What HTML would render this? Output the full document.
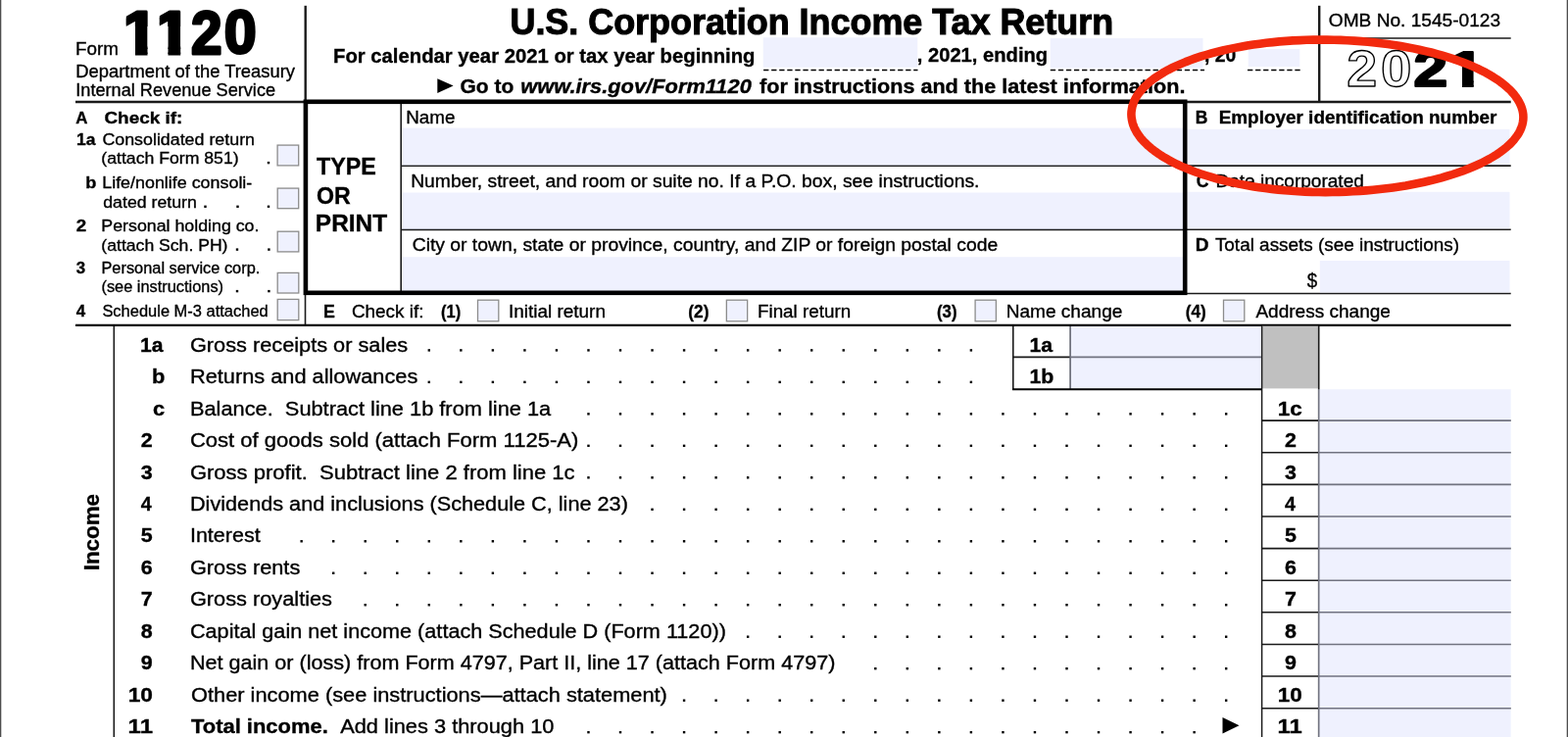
<!DOCTYPE html>
<html><head><meta charset="utf-8"><title>Form 1120</title>
<style>
html,body{margin:0;padding:0;background:#fff;width:1600px;height:752px;overflow:hidden}
svg{display:block}
text{font-family:"Liberation Sans",Arial,Helvetica,sans-serif;fill:#000;stroke:#000;stroke-width:0.35px;white-space:pre}
.b{font-weight:bold}
.i{font-style:italic}
.bi{font-weight:bold;font-style:italic}
</style></head>
<body>
<svg width="1600" height="752" viewBox="0 0 1600 752">
<defs><clipPath id="o1"><rect x="138.00" y="6.60" width="12.50" height="52.40"/><rect x="128.80" y="6.60" width="24.70" height="20.40"/></clipPath><clipPath id="o2"><rect x="171.50" y="6.60" width="12.70" height="52.40"/><rect x="162.80" y="6.60" width="24.40" height="20.40"/></clipPath><clipPath id="o3"><rect x="1492.00" y="49.00" width="11.70" height="43.20"/><rect x="1483.60" y="49.00" width="23.10" height="19.00"/></clipPath></defs>
<rect width="1600" height="752" fill="#fff"/>
<rect x="0.00" y="0.00" width="1.30" height="752.00" fill="#4d4d4d"/>
<rect x="1598.70" y="0.00" width="1.30" height="752.00" fill="#4d4d4d"/>
<line x1="779.10" y1="71.60" x2="936.50" y2="71.60" stroke="#000" stroke-width="1.5" stroke-dasharray="5.3 2.76"/>
<line x1="1071.80" y1="71.60" x2="1229.00" y2="71.60" stroke="#000" stroke-width="1.5" stroke-dasharray="5.3 2.76"/>
<line x1="1273.00" y1="71.60" x2="1327.50" y2="71.60" stroke="#000" stroke-width="1.5" stroke-dasharray="5.3 2.76"/>
<line x1="311.70" y1="5.80" x2="311.70" y2="103.00" stroke="#1a1a1a" stroke-width="2.4"/>
<line x1="1346.20" y1="5.80" x2="1346.20" y2="103.00" stroke="#1a1a1a" stroke-width="2.4"/>
<line x1="1346.00" y1="39.00" x2="1541.70" y2="39.00" stroke="#1a1a1a" stroke-width="1.6"/>
<line x1="77.00" y1="104.00" x2="311.00" y2="104.00" stroke="#1a1a1a" stroke-width="2.4"/>
<line x1="1210.00" y1="104.00" x2="1541.70" y2="104.00" stroke="#1a1a1a" stroke-width="2.4"/>
<line x1="409.20" y1="105.00" x2="409.20" y2="298.00" stroke="#1a1a1a" stroke-width="1.6"/>
<line x1="410.00" y1="169.20" x2="1208.00" y2="169.20" stroke="#1a1a1a" stroke-width="1.6"/>
<line x1="410.00" y1="234.40" x2="1208.00" y2="234.40" stroke="#1a1a1a" stroke-width="1.6"/>
<line x1="1211.00" y1="169.10" x2="1541.70" y2="169.10" stroke="#1a1a1a" stroke-width="1.6"/>
<line x1="1211.00" y1="234.30" x2="1541.70" y2="234.30" stroke="#1a1a1a" stroke-width="1.6"/>
<line x1="1211.00" y1="299.50" x2="1541.70" y2="299.50" stroke="#1a1a1a" stroke-width="1.6"/>
<line x1="311.50" y1="299.00" x2="311.50" y2="332.00" stroke="#1a1a1a" stroke-width="1.6"/>
<line x1="77.00" y1="331.90" x2="1541.70" y2="331.90" stroke="#000" stroke-width="2.3"/>
<line x1="116.30" y1="333.00" x2="116.30" y2="752.00" stroke="#1a1a1a" stroke-width="1.6"/>
<line x1="1033.80" y1="333.00" x2="1033.80" y2="397.30" stroke="#1a1a1a" stroke-width="1.6"/>
<line x1="1092.20" y1="333.00" x2="1092.20" y2="397.30" stroke="#1a1a1a" stroke-width="1.6"/>
<line x1="1033.80" y1="364.40" x2="1287.30" y2="364.40" stroke="#1a1a1a" stroke-width="1.6"/>
<rect x="1287.70" y="332.60" width="57.50" height="63.80" fill="#c0c0c0"/>
<line x1="1287.60" y1="333.00" x2="1287.60" y2="752.00" stroke="#1a1a1a" stroke-width="1.5"/>
<line x1="1345.70" y1="333.00" x2="1345.70" y2="752.00" stroke="#1a1a1a" stroke-width="1.6"/>
<line x1="1287.60" y1="429.10" x2="1541.70" y2="429.10" stroke="#1a1a1a" stroke-width="1.6"/>
<line x1="1287.60" y1="461.72" x2="1541.70" y2="461.72" stroke="#1a1a1a" stroke-width="1.6"/>
<line x1="1287.60" y1="494.34" x2="1541.70" y2="494.34" stroke="#1a1a1a" stroke-width="1.6"/>
<line x1="1287.60" y1="526.96" x2="1541.70" y2="526.96" stroke="#1a1a1a" stroke-width="1.6"/>
<line x1="1287.60" y1="559.58" x2="1541.70" y2="559.58" stroke="#1a1a1a" stroke-width="1.6"/>
<line x1="1287.60" y1="592.20" x2="1541.70" y2="592.20" stroke="#1a1a1a" stroke-width="1.6"/>
<line x1="1287.60" y1="624.82" x2="1541.70" y2="624.82" stroke="#1a1a1a" stroke-width="1.6"/>
<line x1="1287.60" y1="657.44" x2="1541.70" y2="657.44" stroke="#1a1a1a" stroke-width="1.6"/>
<line x1="1287.60" y1="690.06" x2="1541.70" y2="690.06" stroke="#1a1a1a" stroke-width="1.6"/>
<line x1="1287.60" y1="722.68" x2="1541.70" y2="722.68" stroke="#1a1a1a" stroke-width="1.6"/>
<line x1="1287.60" y1="755.30" x2="1541.70" y2="755.30" stroke="#1a1a1a" stroke-width="1.6"/>
<g fill="rgb(219,224,253)" fill-opacity="0.45">
<rect x="778.75" y="38.25" width="157.50" height="30.55"/>
<rect x="1071.75" y="39.00" width="155.75" height="30.50"/>
<rect x="1273.75" y="50.00" width="52.50" height="18.00"/>
<rect x="410.00" y="130.60" width="797.00" height="37.90"/>
<rect x="410.00" y="196.50" width="797.00" height="37.50"/>
<rect x="410.00" y="262.20" width="797.00" height="34.80"/>
<rect x="1211.50" y="131.90" width="329.00" height="36.10"/>
<rect x="1211.50" y="195.80" width="329.00" height="37.50"/>
<rect x="1346.80" y="266.00" width="193.70" height="32.50"/>
<rect x="1091.40" y="333.00" width="195.60" height="64.00"/>
<rect x="1345.00" y="397.20" width="196.70" height="354.80"/>
</g>
<rect x="311.9" y="103.8" width="897.3" height="195" fill="none" stroke="#000" stroke-width="4.6"/>
<line x1="1033.00" y1="397.20" x2="1287.50" y2="397.20" stroke="#000" stroke-width="2.0"/>
<rect x="283.10" y="148.10" width="21.60" height="20.80" fill="#eff1fe" stroke="#8c8c8c" stroke-width="1.3"/>
<rect x="283.20" y="192.10" width="21.50" height="20.60" fill="#eff1fe" stroke="#8c8c8c" stroke-width="1.3"/>
<rect x="283.20" y="236.20" width="21.60" height="20.70" fill="#eff1fe" stroke="#8c8c8c" stroke-width="1.3"/>
<rect x="283.20" y="278.40" width="21.60" height="20.60" fill="#eff1fe" stroke="#8c8c8c" stroke-width="1.3"/>
<rect x="283.20" y="305.40" width="21.60" height="21.20" fill="#eff1fe" stroke="#8c8c8c" stroke-width="1.3"/>
<rect x="487.50" y="306.20" width="21.30" height="21.60" fill="#eff1fe" stroke="#8c8c8c" stroke-width="1.3"/>
<rect x="741.35" y="306.20" width="21.30" height="21.60" fill="#eff1fe" stroke="#8c8c8c" stroke-width="1.3"/>
<rect x="995.10" y="306.20" width="21.30" height="21.60" fill="#eff1fe" stroke="#8c8c8c" stroke-width="1.3"/>
<rect x="1248.50" y="306.20" width="21.30" height="21.60" fill="#eff1fe" stroke="#8c8c8c" stroke-width="1.3"/>
<rect x="272.80" y="164.90" width="2.4" height="2.4" fill="#000"/>
<rect x="208.30" y="209.60" width="2.4" height="2.4" fill="#000"/>
<rect x="241.30" y="209.60" width="2.4" height="2.4" fill="#000"/>
<rect x="272.80" y="209.60" width="2.4" height="2.4" fill="#000"/>
<rect x="240.80" y="253.40" width="2.4" height="2.4" fill="#000"/>
<rect x="273.20" y="253.40" width="2.4" height="2.4" fill="#000"/>
<rect x="240.80" y="295.90" width="2.4" height="2.4" fill="#000"/>
<rect x="273.20" y="295.90" width="2.4" height="2.4" fill="#000"/>
<rect x="436.60" y="356.20" width="2.4" height="2.4" fill="#000"/>
<rect x="469.14" y="356.20" width="2.4" height="2.4" fill="#000"/>
<rect x="501.67" y="356.20" width="2.4" height="2.4" fill="#000"/>
<rect x="534.20" y="356.20" width="2.4" height="2.4" fill="#000"/>
<rect x="566.74" y="356.20" width="2.4" height="2.4" fill="#000"/>
<rect x="599.27" y="356.20" width="2.4" height="2.4" fill="#000"/>
<rect x="631.81" y="356.20" width="2.4" height="2.4" fill="#000"/>
<rect x="664.34" y="356.20" width="2.4" height="2.4" fill="#000"/>
<rect x="696.88" y="356.20" width="2.4" height="2.4" fill="#000"/>
<rect x="729.41" y="356.20" width="2.4" height="2.4" fill="#000"/>
<rect x="761.95" y="356.20" width="2.4" height="2.4" fill="#000"/>
<rect x="794.48" y="356.20" width="2.4" height="2.4" fill="#000"/>
<rect x="827.02" y="356.20" width="2.4" height="2.4" fill="#000"/>
<rect x="859.55" y="356.20" width="2.4" height="2.4" fill="#000"/>
<rect x="892.09" y="356.20" width="2.4" height="2.4" fill="#000"/>
<rect x="924.62" y="356.20" width="2.4" height="2.4" fill="#000"/>
<rect x="957.16" y="356.20" width="2.4" height="2.4" fill="#000"/>
<rect x="989.69" y="356.20" width="2.4" height="2.4" fill="#000"/>
<rect x="436.60" y="388.68" width="2.4" height="2.4" fill="#000"/>
<rect x="469.14" y="388.68" width="2.4" height="2.4" fill="#000"/>
<rect x="501.67" y="388.68" width="2.4" height="2.4" fill="#000"/>
<rect x="534.20" y="388.68" width="2.4" height="2.4" fill="#000"/>
<rect x="566.74" y="388.68" width="2.4" height="2.4" fill="#000"/>
<rect x="599.27" y="388.68" width="2.4" height="2.4" fill="#000"/>
<rect x="631.81" y="388.68" width="2.4" height="2.4" fill="#000"/>
<rect x="664.34" y="388.68" width="2.4" height="2.4" fill="#000"/>
<rect x="696.88" y="388.68" width="2.4" height="2.4" fill="#000"/>
<rect x="729.41" y="388.68" width="2.4" height="2.4" fill="#000"/>
<rect x="761.95" y="388.68" width="2.4" height="2.4" fill="#000"/>
<rect x="794.48" y="388.68" width="2.4" height="2.4" fill="#000"/>
<rect x="827.02" y="388.68" width="2.4" height="2.4" fill="#000"/>
<rect x="859.55" y="388.68" width="2.4" height="2.4" fill="#000"/>
<rect x="892.09" y="388.68" width="2.4" height="2.4" fill="#000"/>
<rect x="924.62" y="388.68" width="2.4" height="2.4" fill="#000"/>
<rect x="957.16" y="388.68" width="2.4" height="2.4" fill="#000"/>
<rect x="989.69" y="388.68" width="2.4" height="2.4" fill="#000"/>
<rect x="599.27" y="421.16" width="2.4" height="2.4" fill="#000"/>
<rect x="631.81" y="421.16" width="2.4" height="2.4" fill="#000"/>
<rect x="664.34" y="421.16" width="2.4" height="2.4" fill="#000"/>
<rect x="696.88" y="421.16" width="2.4" height="2.4" fill="#000"/>
<rect x="729.41" y="421.16" width="2.4" height="2.4" fill="#000"/>
<rect x="761.95" y="421.16" width="2.4" height="2.4" fill="#000"/>
<rect x="794.48" y="421.16" width="2.4" height="2.4" fill="#000"/>
<rect x="827.02" y="421.16" width="2.4" height="2.4" fill="#000"/>
<rect x="859.55" y="421.16" width="2.4" height="2.4" fill="#000"/>
<rect x="892.09" y="421.16" width="2.4" height="2.4" fill="#000"/>
<rect x="924.62" y="421.16" width="2.4" height="2.4" fill="#000"/>
<rect x="957.16" y="421.16" width="2.4" height="2.4" fill="#000"/>
<rect x="989.69" y="421.16" width="2.4" height="2.4" fill="#000"/>
<rect x="1022.23" y="421.16" width="2.4" height="2.4" fill="#000"/>
<rect x="1054.76" y="421.16" width="2.4" height="2.4" fill="#000"/>
<rect x="1087.30" y="421.16" width="2.4" height="2.4" fill="#000"/>
<rect x="1119.83" y="421.16" width="2.4" height="2.4" fill="#000"/>
<rect x="1152.37" y="421.16" width="2.4" height="2.4" fill="#000"/>
<rect x="1184.90" y="421.16" width="2.4" height="2.4" fill="#000"/>
<rect x="1217.44" y="421.16" width="2.4" height="2.4" fill="#000"/>
<rect x="1249.97" y="421.16" width="2.4" height="2.4" fill="#000"/>
<rect x="599.27" y="453.64" width="2.4" height="2.4" fill="#000"/>
<rect x="631.81" y="453.64" width="2.4" height="2.4" fill="#000"/>
<rect x="664.34" y="453.64" width="2.4" height="2.4" fill="#000"/>
<rect x="696.88" y="453.64" width="2.4" height="2.4" fill="#000"/>
<rect x="729.41" y="453.64" width="2.4" height="2.4" fill="#000"/>
<rect x="761.95" y="453.64" width="2.4" height="2.4" fill="#000"/>
<rect x="794.48" y="453.64" width="2.4" height="2.4" fill="#000"/>
<rect x="827.02" y="453.64" width="2.4" height="2.4" fill="#000"/>
<rect x="859.55" y="453.64" width="2.4" height="2.4" fill="#000"/>
<rect x="892.09" y="453.64" width="2.4" height="2.4" fill="#000"/>
<rect x="924.62" y="453.64" width="2.4" height="2.4" fill="#000"/>
<rect x="957.16" y="453.64" width="2.4" height="2.4" fill="#000"/>
<rect x="989.69" y="453.64" width="2.4" height="2.4" fill="#000"/>
<rect x="1022.23" y="453.64" width="2.4" height="2.4" fill="#000"/>
<rect x="1054.76" y="453.64" width="2.4" height="2.4" fill="#000"/>
<rect x="1087.30" y="453.64" width="2.4" height="2.4" fill="#000"/>
<rect x="1119.83" y="453.64" width="2.4" height="2.4" fill="#000"/>
<rect x="1152.37" y="453.64" width="2.4" height="2.4" fill="#000"/>
<rect x="1184.90" y="453.64" width="2.4" height="2.4" fill="#000"/>
<rect x="1217.44" y="453.64" width="2.4" height="2.4" fill="#000"/>
<rect x="1249.97" y="453.64" width="2.4" height="2.4" fill="#000"/>
<rect x="599.27" y="486.12" width="2.4" height="2.4" fill="#000"/>
<rect x="631.81" y="486.12" width="2.4" height="2.4" fill="#000"/>
<rect x="664.34" y="486.12" width="2.4" height="2.4" fill="#000"/>
<rect x="696.88" y="486.12" width="2.4" height="2.4" fill="#000"/>
<rect x="729.41" y="486.12" width="2.4" height="2.4" fill="#000"/>
<rect x="761.95" y="486.12" width="2.4" height="2.4" fill="#000"/>
<rect x="794.48" y="486.12" width="2.4" height="2.4" fill="#000"/>
<rect x="827.02" y="486.12" width="2.4" height="2.4" fill="#000"/>
<rect x="859.55" y="486.12" width="2.4" height="2.4" fill="#000"/>
<rect x="892.09" y="486.12" width="2.4" height="2.4" fill="#000"/>
<rect x="924.62" y="486.12" width="2.4" height="2.4" fill="#000"/>
<rect x="957.16" y="486.12" width="2.4" height="2.4" fill="#000"/>
<rect x="989.69" y="486.12" width="2.4" height="2.4" fill="#000"/>
<rect x="1022.23" y="486.12" width="2.4" height="2.4" fill="#000"/>
<rect x="1054.76" y="486.12" width="2.4" height="2.4" fill="#000"/>
<rect x="1087.30" y="486.12" width="2.4" height="2.4" fill="#000"/>
<rect x="1119.83" y="486.12" width="2.4" height="2.4" fill="#000"/>
<rect x="1152.37" y="486.12" width="2.4" height="2.4" fill="#000"/>
<rect x="1184.90" y="486.12" width="2.4" height="2.4" fill="#000"/>
<rect x="1217.44" y="486.12" width="2.4" height="2.4" fill="#000"/>
<rect x="1249.97" y="486.12" width="2.4" height="2.4" fill="#000"/>
<rect x="664.34" y="518.60" width="2.4" height="2.4" fill="#000"/>
<rect x="696.88" y="518.60" width="2.4" height="2.4" fill="#000"/>
<rect x="729.41" y="518.60" width="2.4" height="2.4" fill="#000"/>
<rect x="761.95" y="518.60" width="2.4" height="2.4" fill="#000"/>
<rect x="794.48" y="518.60" width="2.4" height="2.4" fill="#000"/>
<rect x="827.02" y="518.60" width="2.4" height="2.4" fill="#000"/>
<rect x="859.55" y="518.60" width="2.4" height="2.4" fill="#000"/>
<rect x="892.09" y="518.60" width="2.4" height="2.4" fill="#000"/>
<rect x="924.62" y="518.60" width="2.4" height="2.4" fill="#000"/>
<rect x="957.16" y="518.60" width="2.4" height="2.4" fill="#000"/>
<rect x="989.69" y="518.60" width="2.4" height="2.4" fill="#000"/>
<rect x="1022.23" y="518.60" width="2.4" height="2.4" fill="#000"/>
<rect x="1054.76" y="518.60" width="2.4" height="2.4" fill="#000"/>
<rect x="1087.30" y="518.60" width="2.4" height="2.4" fill="#000"/>
<rect x="1119.83" y="518.60" width="2.4" height="2.4" fill="#000"/>
<rect x="1152.37" y="518.60" width="2.4" height="2.4" fill="#000"/>
<rect x="1184.90" y="518.60" width="2.4" height="2.4" fill="#000"/>
<rect x="1217.44" y="518.60" width="2.4" height="2.4" fill="#000"/>
<rect x="1249.97" y="518.60" width="2.4" height="2.4" fill="#000"/>
<rect x="306.46" y="551.08" width="2.4" height="2.4" fill="#000"/>
<rect x="339.00" y="551.08" width="2.4" height="2.4" fill="#000"/>
<rect x="371.53" y="551.08" width="2.4" height="2.4" fill="#000"/>
<rect x="404.06" y="551.08" width="2.4" height="2.4" fill="#000"/>
<rect x="436.60" y="551.08" width="2.4" height="2.4" fill="#000"/>
<rect x="469.14" y="551.08" width="2.4" height="2.4" fill="#000"/>
<rect x="501.67" y="551.08" width="2.4" height="2.4" fill="#000"/>
<rect x="534.20" y="551.08" width="2.4" height="2.4" fill="#000"/>
<rect x="566.74" y="551.08" width="2.4" height="2.4" fill="#000"/>
<rect x="599.27" y="551.08" width="2.4" height="2.4" fill="#000"/>
<rect x="631.81" y="551.08" width="2.4" height="2.4" fill="#000"/>
<rect x="664.34" y="551.08" width="2.4" height="2.4" fill="#000"/>
<rect x="696.88" y="551.08" width="2.4" height="2.4" fill="#000"/>
<rect x="729.41" y="551.08" width="2.4" height="2.4" fill="#000"/>
<rect x="761.95" y="551.08" width="2.4" height="2.4" fill="#000"/>
<rect x="794.48" y="551.08" width="2.4" height="2.4" fill="#000"/>
<rect x="827.02" y="551.08" width="2.4" height="2.4" fill="#000"/>
<rect x="859.55" y="551.08" width="2.4" height="2.4" fill="#000"/>
<rect x="892.09" y="551.08" width="2.4" height="2.4" fill="#000"/>
<rect x="924.62" y="551.08" width="2.4" height="2.4" fill="#000"/>
<rect x="957.16" y="551.08" width="2.4" height="2.4" fill="#000"/>
<rect x="989.69" y="551.08" width="2.4" height="2.4" fill="#000"/>
<rect x="1022.23" y="551.08" width="2.4" height="2.4" fill="#000"/>
<rect x="1054.76" y="551.08" width="2.4" height="2.4" fill="#000"/>
<rect x="1087.30" y="551.08" width="2.4" height="2.4" fill="#000"/>
<rect x="1119.83" y="551.08" width="2.4" height="2.4" fill="#000"/>
<rect x="1152.37" y="551.08" width="2.4" height="2.4" fill="#000"/>
<rect x="1184.90" y="551.08" width="2.4" height="2.4" fill="#000"/>
<rect x="1217.44" y="551.08" width="2.4" height="2.4" fill="#000"/>
<rect x="1249.97" y="551.08" width="2.4" height="2.4" fill="#000"/>
<rect x="339.00" y="583.56" width="2.4" height="2.4" fill="#000"/>
<rect x="371.53" y="583.56" width="2.4" height="2.4" fill="#000"/>
<rect x="404.06" y="583.56" width="2.4" height="2.4" fill="#000"/>
<rect x="436.60" y="583.56" width="2.4" height="2.4" fill="#000"/>
<rect x="469.14" y="583.56" width="2.4" height="2.4" fill="#000"/>
<rect x="501.67" y="583.56" width="2.4" height="2.4" fill="#000"/>
<rect x="534.20" y="583.56" width="2.4" height="2.4" fill="#000"/>
<rect x="566.74" y="583.56" width="2.4" height="2.4" fill="#000"/>
<rect x="599.27" y="583.56" width="2.4" height="2.4" fill="#000"/>
<rect x="631.81" y="583.56" width="2.4" height="2.4" fill="#000"/>
<rect x="664.34" y="583.56" width="2.4" height="2.4" fill="#000"/>
<rect x="696.88" y="583.56" width="2.4" height="2.4" fill="#000"/>
<rect x="729.41" y="583.56" width="2.4" height="2.4" fill="#000"/>
<rect x="761.95" y="583.56" width="2.4" height="2.4" fill="#000"/>
<rect x="794.48" y="583.56" width="2.4" height="2.4" fill="#000"/>
<rect x="827.02" y="583.56" width="2.4" height="2.4" fill="#000"/>
<rect x="859.55" y="583.56" width="2.4" height="2.4" fill="#000"/>
<rect x="892.09" y="583.56" width="2.4" height="2.4" fill="#000"/>
<rect x="924.62" y="583.56" width="2.4" height="2.4" fill="#000"/>
<rect x="957.16" y="583.56" width="2.4" height="2.4" fill="#000"/>
<rect x="989.69" y="583.56" width="2.4" height="2.4" fill="#000"/>
<rect x="1022.23" y="583.56" width="2.4" height="2.4" fill="#000"/>
<rect x="1054.76" y="583.56" width="2.4" height="2.4" fill="#000"/>
<rect x="1087.30" y="583.56" width="2.4" height="2.4" fill="#000"/>
<rect x="1119.83" y="583.56" width="2.4" height="2.4" fill="#000"/>
<rect x="1152.37" y="583.56" width="2.4" height="2.4" fill="#000"/>
<rect x="1184.90" y="583.56" width="2.4" height="2.4" fill="#000"/>
<rect x="1217.44" y="583.56" width="2.4" height="2.4" fill="#000"/>
<rect x="1249.97" y="583.56" width="2.4" height="2.4" fill="#000"/>
<rect x="371.53" y="616.04" width="2.4" height="2.4" fill="#000"/>
<rect x="404.06" y="616.04" width="2.4" height="2.4" fill="#000"/>
<rect x="436.60" y="616.04" width="2.4" height="2.4" fill="#000"/>
<rect x="469.14" y="616.04" width="2.4" height="2.4" fill="#000"/>
<rect x="501.67" y="616.04" width="2.4" height="2.4" fill="#000"/>
<rect x="534.20" y="616.04" width="2.4" height="2.4" fill="#000"/>
<rect x="566.74" y="616.04" width="2.4" height="2.4" fill="#000"/>
<rect x="599.27" y="616.04" width="2.4" height="2.4" fill="#000"/>
<rect x="631.81" y="616.04" width="2.4" height="2.4" fill="#000"/>
<rect x="664.34" y="616.04" width="2.4" height="2.4" fill="#000"/>
<rect x="696.88" y="616.04" width="2.4" height="2.4" fill="#000"/>
<rect x="729.41" y="616.04" width="2.4" height="2.4" fill="#000"/>
<rect x="761.95" y="616.04" width="2.4" height="2.4" fill="#000"/>
<rect x="794.48" y="616.04" width="2.4" height="2.4" fill="#000"/>
<rect x="827.02" y="616.04" width="2.4" height="2.4" fill="#000"/>
<rect x="859.55" y="616.04" width="2.4" height="2.4" fill="#000"/>
<rect x="892.09" y="616.04" width="2.4" height="2.4" fill="#000"/>
<rect x="924.62" y="616.04" width="2.4" height="2.4" fill="#000"/>
<rect x="957.16" y="616.04" width="2.4" height="2.4" fill="#000"/>
<rect x="989.69" y="616.04" width="2.4" height="2.4" fill="#000"/>
<rect x="1022.23" y="616.04" width="2.4" height="2.4" fill="#000"/>
<rect x="1054.76" y="616.04" width="2.4" height="2.4" fill="#000"/>
<rect x="1087.30" y="616.04" width="2.4" height="2.4" fill="#000"/>
<rect x="1119.83" y="616.04" width="2.4" height="2.4" fill="#000"/>
<rect x="1152.37" y="616.04" width="2.4" height="2.4" fill="#000"/>
<rect x="1184.90" y="616.04" width="2.4" height="2.4" fill="#000"/>
<rect x="1217.44" y="616.04" width="2.4" height="2.4" fill="#000"/>
<rect x="1249.97" y="616.04" width="2.4" height="2.4" fill="#000"/>
<rect x="761.95" y="648.52" width="2.4" height="2.4" fill="#000"/>
<rect x="794.48" y="648.52" width="2.4" height="2.4" fill="#000"/>
<rect x="827.02" y="648.52" width="2.4" height="2.4" fill="#000"/>
<rect x="859.55" y="648.52" width="2.4" height="2.4" fill="#000"/>
<rect x="892.09" y="648.52" width="2.4" height="2.4" fill="#000"/>
<rect x="924.62" y="648.52" width="2.4" height="2.4" fill="#000"/>
<rect x="957.16" y="648.52" width="2.4" height="2.4" fill="#000"/>
<rect x="989.69" y="648.52" width="2.4" height="2.4" fill="#000"/>
<rect x="1022.23" y="648.52" width="2.4" height="2.4" fill="#000"/>
<rect x="1054.76" y="648.52" width="2.4" height="2.4" fill="#000"/>
<rect x="1087.30" y="648.52" width="2.4" height="2.4" fill="#000"/>
<rect x="1119.83" y="648.52" width="2.4" height="2.4" fill="#000"/>
<rect x="1152.37" y="648.52" width="2.4" height="2.4" fill="#000"/>
<rect x="1184.90" y="648.52" width="2.4" height="2.4" fill="#000"/>
<rect x="1217.44" y="648.52" width="2.4" height="2.4" fill="#000"/>
<rect x="1249.97" y="648.52" width="2.4" height="2.4" fill="#000"/>
<rect x="892.09" y="681.00" width="2.4" height="2.4" fill="#000"/>
<rect x="924.62" y="681.00" width="2.4" height="2.4" fill="#000"/>
<rect x="957.16" y="681.00" width="2.4" height="2.4" fill="#000"/>
<rect x="989.69" y="681.00" width="2.4" height="2.4" fill="#000"/>
<rect x="1022.23" y="681.00" width="2.4" height="2.4" fill="#000"/>
<rect x="1054.76" y="681.00" width="2.4" height="2.4" fill="#000"/>
<rect x="1087.30" y="681.00" width="2.4" height="2.4" fill="#000"/>
<rect x="1119.83" y="681.00" width="2.4" height="2.4" fill="#000"/>
<rect x="1152.37" y="681.00" width="2.4" height="2.4" fill="#000"/>
<rect x="1184.90" y="681.00" width="2.4" height="2.4" fill="#000"/>
<rect x="1217.44" y="681.00" width="2.4" height="2.4" fill="#000"/>
<rect x="1249.97" y="681.00" width="2.4" height="2.4" fill="#000"/>
<rect x="696.88" y="713.48" width="2.4" height="2.4" fill="#000"/>
<rect x="729.41" y="713.48" width="2.4" height="2.4" fill="#000"/>
<rect x="761.95" y="713.48" width="2.4" height="2.4" fill="#000"/>
<rect x="794.48" y="713.48" width="2.4" height="2.4" fill="#000"/>
<rect x="827.02" y="713.48" width="2.4" height="2.4" fill="#000"/>
<rect x="859.55" y="713.48" width="2.4" height="2.4" fill="#000"/>
<rect x="892.09" y="713.48" width="2.4" height="2.4" fill="#000"/>
<rect x="924.62" y="713.48" width="2.4" height="2.4" fill="#000"/>
<rect x="957.16" y="713.48" width="2.4" height="2.4" fill="#000"/>
<rect x="989.69" y="713.48" width="2.4" height="2.4" fill="#000"/>
<rect x="1022.23" y="713.48" width="2.4" height="2.4" fill="#000"/>
<rect x="1054.76" y="713.48" width="2.4" height="2.4" fill="#000"/>
<rect x="1087.30" y="713.48" width="2.4" height="2.4" fill="#000"/>
<rect x="1119.83" y="713.48" width="2.4" height="2.4" fill="#000"/>
<rect x="1152.37" y="713.48" width="2.4" height="2.4" fill="#000"/>
<rect x="1184.90" y="713.48" width="2.4" height="2.4" fill="#000"/>
<rect x="1217.44" y="713.48" width="2.4" height="2.4" fill="#000"/>
<rect x="1249.97" y="713.48" width="2.4" height="2.4" fill="#000"/>
<rect x="599.27" y="745.96" width="2.4" height="2.4" fill="#000"/>
<rect x="631.81" y="745.96" width="2.4" height="2.4" fill="#000"/>
<rect x="664.34" y="745.96" width="2.4" height="2.4" fill="#000"/>
<rect x="696.88" y="745.96" width="2.4" height="2.4" fill="#000"/>
<rect x="729.41" y="745.96" width="2.4" height="2.4" fill="#000"/>
<rect x="761.95" y="745.96" width="2.4" height="2.4" fill="#000"/>
<rect x="794.48" y="745.96" width="2.4" height="2.4" fill="#000"/>
<rect x="827.02" y="745.96" width="2.4" height="2.4" fill="#000"/>
<rect x="859.55" y="745.96" width="2.4" height="2.4" fill="#000"/>
<rect x="892.09" y="745.96" width="2.4" height="2.4" fill="#000"/>
<rect x="924.62" y="745.96" width="2.4" height="2.4" fill="#000"/>
<rect x="957.16" y="745.96" width="2.4" height="2.4" fill="#000"/>
<rect x="989.69" y="745.96" width="2.4" height="2.4" fill="#000"/>
<rect x="1022.23" y="745.96" width="2.4" height="2.4" fill="#000"/>
<rect x="1054.76" y="745.96" width="2.4" height="2.4" fill="#000"/>
<rect x="1087.30" y="745.96" width="2.4" height="2.4" fill="#000"/>
<rect x="1119.83" y="745.96" width="2.4" height="2.4" fill="#000"/>
<rect x="1152.37" y="745.96" width="2.4" height="2.4" fill="#000"/>
<rect x="1184.90" y="745.96" width="2.4" height="2.4" fill="#000"/>
<rect x="1217.44" y="745.96" width="2.4" height="2.4" fill="#000"/>
<path d="M1247.5 731.9 L1264.5 740.2 L1247.5 748.5 Z" fill="#000"/>
<path d="M446.3 80.2 L462.6 87.6 L446.3 95 Z" fill="#000"/>
<text x="77.02" y="55.50" font-size="17.5" textLength="43.90" lengthAdjust="spacingAndGlyphs">Form</text>
<text x="77.26" y="78.90" font-size="18.6" textLength="223.79" lengthAdjust="spacingAndGlyphs">Department of the Treasury</text>
<text x="77.27" y="98.20" font-size="18.6" textLength="203.81" lengthAdjust="spacingAndGlyphs">Internal Revenue Service</text>
<text x="520.48" y="35.10" font-size="37.3" class=b textLength="615.64" lengthAdjust="spacingAndGlyphs" style="stroke-width:1.1px">U.S. Corporation Income Tax Return</text>
<text x="340.01" y="63.60" font-size="20.4" class=b textLength="430.45" lengthAdjust="spacingAndGlyphs">For calendar year 2021 or tax year beginning</text>
<text x="935.76" y="63.30" font-size="20.4" class=b textLength="133.44" lengthAdjust="spacingAndGlyphs">, 2021, ending</text>
<text x="1229.05" y="63.10" font-size="20.4" class=b textLength="32.27" lengthAdjust="spacingAndGlyphs">, 20</text>
<text x="469.50" y="95.00" font-size="20.4" class=b textLength="54.72" lengthAdjust="spacingAndGlyphs">Go to</text>
<text x="531.25" y="95.00" font-size="20.4" class=bi textLength="235.54" lengthAdjust="spacingAndGlyphs">www.irs.gov/Form1120</text>
<text x="775.00" y="95.00" font-size="20.4" class=b textLength="434.45" lengthAdjust="spacingAndGlyphs">for instructions and the latest information.</text>
<text x="1355.80" y="27.30" font-size="18.4" textLength="175.34" lengthAdjust="spacingAndGlyphs">OMB No. 1545-0123</text>
<text x="77.20" y="126.20" font-size="17.4" class=b textLength="12.17" lengthAdjust="spacingAndGlyphs">A</text>
<text x="106.45" y="126.20" font-size="17.4" class=b textLength="79.91" lengthAdjust="spacingAndGlyphs">Check if:</text>
<text x="78.00" y="148.25" font-size="17.4" class=b textLength="19.42" lengthAdjust="spacingAndGlyphs">1a</text>
<text x="104.40" y="148.25" font-size="17.4" textLength="155.59" lengthAdjust="spacingAndGlyphs">Consolidated return</text>
<text x="103.39" y="167.30" font-size="17.4" textLength="140.22" lengthAdjust="spacingAndGlyphs">(attach Form 851)</text>
<text x="87.26" y="192.20" font-size="17.4" class=b textLength="11.10" lengthAdjust="spacingAndGlyphs">b</text>
<text x="104.22" y="192.20" font-size="17.4" textLength="153.06" lengthAdjust="spacingAndGlyphs">Life/nonlife consoli-</text>
<text x="105.25" y="212.00" font-size="17.4" textLength="95.64" lengthAdjust="spacingAndGlyphs">dated return</text>
<text x="77.80" y="236.10" font-size="17.4" class=b textLength="10.42" lengthAdjust="spacingAndGlyphs">2</text>
<text x="103.38" y="236.10" font-size="17.4" textLength="161.07" lengthAdjust="spacingAndGlyphs">Personal holding co.</text>
<text x="103.39" y="255.80" font-size="17.4" textLength="129.11" lengthAdjust="spacingAndGlyphs">(attach Sch. PH)</text>
<text x="77.80" y="279.30" font-size="17.4" class=b textLength="9.38" lengthAdjust="spacingAndGlyphs">3</text>
<text x="103.46" y="279.30" font-size="17.4" textLength="161.82" lengthAdjust="spacingAndGlyphs">Personal service corp.</text>
<text x="103.46" y="298.30" font-size="17.4" textLength="124.59" lengthAdjust="spacingAndGlyphs">(see instructions)</text>
<text x="77.80" y="322.90" font-size="17.4" class=b textLength="9.38" lengthAdjust="spacingAndGlyphs">4</text>
<text x="104.40" y="322.90" font-size="17.4" textLength="169.34" lengthAdjust="spacingAndGlyphs">Schedule M-3 attached</text>
<text x="322.90" y="177.60" font-size="24" class=b textLength="60.91" lengthAdjust="spacingAndGlyphs">TYPE</text>
<text x="322.90" y="207.50" font-size="24" class=b textLength="34.72" lengthAdjust="spacingAndGlyphs">OR</text>
<text x="321.88" y="236.30" font-size="24" class=b textLength="73.27" lengthAdjust="spacingAndGlyphs">PRINT</text>
<text x="414.29" y="125.90" font-size="18.6" textLength="50.16" lengthAdjust="spacingAndGlyphs">Name</text>
<text x="419.16" y="191.00" font-size="18.6" textLength="580.25" lengthAdjust="spacingAndGlyphs">Number, street, and room or suite no. If a P.O. box, see instructions.</text>
<text x="420.70" y="255.80" font-size="18.6" textLength="597.45" lengthAdjust="spacingAndGlyphs">City or town, state or province, country, and ZIP or foreign postal code</text>
<text x="1219.76" y="125.50" font-size="18.6" class=b textLength="12.64" lengthAdjust="spacingAndGlyphs">B</text>
<text x="1243.68" y="125.50" font-size="18.6" class=b textLength="283.76" lengthAdjust="spacingAndGlyphs">Employer identification number</text>
<text x="1220.70" y="191.00" font-size="18.6" class=b textLength="12.70" lengthAdjust="spacingAndGlyphs">C</text>
<text x="1240.48" y="191.00" font-size="18.6" textLength="151.37" lengthAdjust="spacingAndGlyphs">Date incorporated</text>
<text x="1219.67" y="255.80" font-size="18.6" class=b textLength="13.76" lengthAdjust="spacingAndGlyphs">D</text>
<text x="1239.90" y="255.80" font-size="18.6" textLength="249.20" lengthAdjust="spacingAndGlyphs">Total assets (see instructions)</text>
<text x="1333.80" y="292.60" font-size="21" textLength="10.41" lengthAdjust="spacingAndGlyphs">$</text>
<text x="330.05" y="323.80" font-size="18.6" class=b textLength="11.84" lengthAdjust="spacingAndGlyphs">E</text>
<text x="359.00" y="323.80" font-size="18.6" textLength="73.38" lengthAdjust="spacingAndGlyphs">Check if:</text>
<text x="450.10" y="323.80" font-size="18.6" class=b textLength="20.07" lengthAdjust="spacingAndGlyphs">(1)</text>
<text x="518.98" y="323.80" font-size="18.6" textLength="98.97" lengthAdjust="spacingAndGlyphs">Initial return</text>
<text x="702.30" y="323.80" font-size="18.6" class=b textLength="21.18" lengthAdjust="spacingAndGlyphs">(2)</text>
<text x="772.99" y="323.80" font-size="18.6" textLength="95.16" lengthAdjust="spacingAndGlyphs">Final return</text>
<text x="956.00" y="323.80" font-size="18.6" class=b textLength="20.47" lengthAdjust="spacingAndGlyphs">(3)</text>
<text x="1026.73" y="323.80" font-size="18.6" textLength="118.62" lengthAdjust="spacingAndGlyphs">Name change</text>
<text x="1209.80" y="323.80" font-size="18.6" class=b textLength="20.98" lengthAdjust="spacingAndGlyphs">(4)</text>
<text x="1281.40" y="323.80" font-size="18.6" textLength="137.55" lengthAdjust="spacingAndGlyphs">Address change</text>
<text x="143.07" y="358.60" font-size="20.5" class=b textLength="23.51" lengthAdjust="spacingAndGlyphs">1a</text>
<text x="193.94" y="358.60" font-size="20.5" textLength="222.23" lengthAdjust="spacingAndGlyphs">Gross receipts or sales</text>
<text x="154.94" y="391.08" font-size="20.5" class=b textLength="13.32" lengthAdjust="spacingAndGlyphs">b</text>
<text x="193.94" y="391.08" font-size="20.5" textLength="232.33" lengthAdjust="spacingAndGlyphs">Returns and allowances</text>
<text x="156.00" y="423.56" font-size="20.5" class=b textLength="12.13" lengthAdjust="spacingAndGlyphs">c</text>
<text x="193.94" y="423.56" font-size="20.5" textLength="368.23" lengthAdjust="spacingAndGlyphs">Balance.  Subtract line 1b from line 1a</text>
<text x="1303.70" y="423.56" font-size="20.5" class=b textLength="25.04" lengthAdjust="spacingAndGlyphs">1c</text>
<text x="143.80" y="456.04" font-size="20.5" class=b textLength="11.92" lengthAdjust="spacingAndGlyphs">2</text>
<text x="193.93" y="456.04" font-size="20.5" textLength="396.36" lengthAdjust="spacingAndGlyphs">Cost of goods sold (attach Form 1125-A)</text>
<text x="1310.90" y="456.04" font-size="20.5" class=b textLength="11.92" lengthAdjust="spacingAndGlyphs">2</text>
<text x="143.80" y="488.52" font-size="20.5" class=b textLength="11.92" lengthAdjust="spacingAndGlyphs">3</text>
<text x="193.93" y="488.52" font-size="20.5" textLength="392.64" lengthAdjust="spacingAndGlyphs">Gross profit.  Subtract line 2 from line 1c</text>
<text x="1310.90" y="488.52" font-size="20.5" class=b textLength="11.92" lengthAdjust="spacingAndGlyphs">3</text>
<text x="143.80" y="521.00" font-size="20.5" class=b textLength="10.93" lengthAdjust="spacingAndGlyphs">4</text>
<text x="193.94" y="521.00" font-size="20.5" textLength="446.93" lengthAdjust="spacingAndGlyphs">Dividends and inclusions (Schedule C, line 23)</text>
<text x="1310.90" y="521.00" font-size="20.5" class=b textLength="10.93" lengthAdjust="spacingAndGlyphs">4</text>
<text x="143.80" y="553.48" font-size="20.5" class=b textLength="11.92" lengthAdjust="spacingAndGlyphs">5</text>
<text x="193.95" y="553.48" font-size="20.5" textLength="71.73" lengthAdjust="spacingAndGlyphs">Interest</text>
<text x="1310.90" y="553.48" font-size="20.5" class=b textLength="11.92" lengthAdjust="spacingAndGlyphs">5</text>
<text x="143.80" y="585.96" font-size="20.5" class=b textLength="11.92" lengthAdjust="spacingAndGlyphs">6</text>
<text x="193.94" y="585.96" font-size="20.5" textLength="112.33" lengthAdjust="spacingAndGlyphs">Gross rents</text>
<text x="1310.90" y="585.96" font-size="20.5" class=b textLength="11.92" lengthAdjust="spacingAndGlyphs">6</text>
<text x="143.80" y="618.44" font-size="20.5" class=b textLength="11.92" lengthAdjust="spacingAndGlyphs">7</text>
<text x="193.94" y="618.44" font-size="20.5" textLength="145.08" lengthAdjust="spacingAndGlyphs">Gross royalties</text>
<text x="1310.90" y="618.44" font-size="20.5" class=b textLength="11.92" lengthAdjust="spacingAndGlyphs">7</text>
<text x="143.80" y="650.92" font-size="20.5" class=b textLength="11.92" lengthAdjust="spacingAndGlyphs">8</text>
<text x="193.94" y="650.92" font-size="20.5" textLength="546.93" lengthAdjust="spacingAndGlyphs">Capital gain net income (attach Schedule D (Form 1120))</text>
<text x="1310.90" y="650.92" font-size="20.5" class=b textLength="11.92" lengthAdjust="spacingAndGlyphs">8</text>
<text x="143.80" y="683.40" font-size="20.5" class=b textLength="11.92" lengthAdjust="spacingAndGlyphs">9</text>
<text x="193.95" y="683.40" font-size="20.5" textLength="658.42" lengthAdjust="spacingAndGlyphs">Net gain or (loss) from Form 4797, Part II, line 17 (attach Form 4797)</text>
<text x="1310.90" y="683.40" font-size="20.5" class=b textLength="11.92" lengthAdjust="spacingAndGlyphs">9</text>
<text x="130.69" y="715.88" font-size="20.5" class=b textLength="25.25" lengthAdjust="spacingAndGlyphs">10</text>
<text x="195.00" y="715.88" font-size="20.5" textLength="485.88" lengthAdjust="spacingAndGlyphs">Other income (see instructions—attach statement)</text>
<text x="1303.70" y="715.88" font-size="20.5" class=b textLength="25.04" lengthAdjust="spacingAndGlyphs">10</text>
<text x="130.63" y="748.36" font-size="20.5" class=b textLength="25.34" lengthAdjust="spacingAndGlyphs">11</text>
<text x="1303.64" y="748.36" font-size="20.5" class=b textLength="25.12" lengthAdjust="spacingAndGlyphs">11</text>
<text x="195.00" y="748.36" font-size="20.5" class=b textLength="139.74" lengthAdjust="spacingAndGlyphs">Total income.</text>
<text x="347.20" y="748.36" font-size="20.5" textLength="218.23" lengthAdjust="spacingAndGlyphs">Add lines 3 through 10</text>
<text x="1050.46" y="358.60" font-size="20.5" class=b textLength="23.72" lengthAdjust="spacingAndGlyphs">1a</text>
<text x="1050.46" y="391.08" font-size="20.5" class=b textLength="24.88" lengthAdjust="spacingAndGlyphs">1b</text>
<text x="195.00" y="54.50" font-size="62.29" class="b" textLength="31.55" lengthAdjust="spacingAndGlyphs" style="fill:#000;stroke:#000;stroke-width:3.0;stroke-linejoin:round">2</text>
<text x="228.72" y="54.47" font-size="62.82" class="b" textLength="32.92" lengthAdjust="spacingAndGlyphs" style="fill:#000;stroke:#000;stroke-width:3.0;stroke-linejoin:round">0</text>
<text x="1374.28" y="88.35" font-size="51.57" class="b" textLength="30.99" lengthAdjust="spacingAndGlyphs" style="fill:#fff;stroke:#000;stroke-width:1.3;stroke-linejoin:round">2</text>
<text x="1408.95" y="88.43" font-size="52.25" class="b" textLength="31.44" lengthAdjust="spacingAndGlyphs" style="fill:#fff;stroke:#000;stroke-width:1.3;stroke-linejoin:round">0</text>
<text x="1442.53" y="88.10" font-size="50.57" class="b" textLength="34.62" lengthAdjust="spacingAndGlyphs" style="fill:#000;stroke:#000;stroke-width:2.2;stroke-linejoin:round">2</text>
<g clip-path="url(#o1)"><text transform="translate(122.96 54.50) scale(1.119 1)" x="0" y="0" font-size="62.90" class="b" style="stroke:#000;stroke-width:2.83;stroke-linejoin:round">1</text></g>
<g clip-path="url(#o2)"><text transform="translate(156.11 54.50) scale(1.142 1)" x="0" y="0" font-size="62.90" class="b" style="stroke:#000;stroke-width:2.80;stroke-linejoin:round">1</text></g>
<g clip-path="url(#o3)"><text transform="translate(1476.56 88.10) scale(1.387 1)" x="0" y="0" font-size="50.72" class="b" style="stroke:#000;stroke-width:1.84;stroke-linejoin:round">1</text></g>
<text x="0" y="0" font-size="22.5" class="b" textLength="78.3" lengthAdjust="spacingAndGlyphs" transform="translate(101.4 582.3) rotate(-90)">Income</text>
<path d="M1154.4 116.8 L1154.5 114.1 L1154.9 111.4 L1155.4 108.7 L1156.3 106.0 L1157.3 103.3 L1158.6 100.7 L1160.1 98.0 L1161.9 95.4 L1163.9 92.8 L1166.1 90.3 L1168.6 87.8 L1171.3 85.3 L1174.2 82.8 L1177.3 80.4 L1180.7 78.1 L1184.3 75.8 L1188.0 73.5 L1192.0 71.3 L1196.2 69.2 L1200.6 67.1 L1205.1 65.1 L1209.9 63.1 L1214.8 61.3 L1219.9 59.4 L1225.1 57.7 L1230.6 56.0 L1236.2 54.4 L1241.9 52.9 L1247.7 51.5 L1253.7 50.1 L1259.9 48.9 L1266.1 47.7 L1272.4 46.6 L1278.9 45.6 L1285.4 44.7 L1292.1 43.8 L1298.8 43.1 L1305.5 42.4 L1312.4 41.9 L1319.2 41.4 L1326.2 41.1 L1333.1 40.8 L1340.1 40.6 L1347.1 40.6 L1354.1 40.6 L1361.1 40.7 L1368.1 40.9 L1375.1 41.2 L1382.1 41.6 L1389.0 42.1 L1395.8 42.7 L1402.7 43.4 L1409.4 44.2 L1416.1 45.1 L1422.7 46.0 L1429.3 47.1 L1435.7 48.2 L1442.0 49.4 L1448.3 50.7 L1454.4 52.1 L1460.4 53.5 L1466.2 55.1 L1471.9 56.7 L1477.5 58.4 L1482.9 60.1 L1488.2 62.0 L1493.3 63.9 L1498.2 65.8 L1503.0 67.8 L1507.6 69.9 L1512.0 72.1 L1516.2 74.2 L1520.2 76.5 L1524.0 78.8 L1527.6 81.1 L1531.0 83.5 L1534.1 85.9 L1537.1 88.3 L1539.8 90.8 L1542.3 93.3 L1544.6 95.9 L1546.6 98.5 L1548.4 101.1 L1550.0 103.7 L1551.3 106.3 L1552.4 108.9 L1553.3 111.6 L1553.9 114.2 L1554.3 116.9 L1554.4 119.6 L1554.3 122.2 L1553.9 124.9 L1553.3 127.5 L1552.4 130.2 L1551.3 132.8 L1550.0 135.4 L1548.4 138.0 L1546.5 140.5 L1544.5 143.1 L1542.2 145.6 L1539.7 148.1 L1536.9 150.5 L1533.9 152.9 L1530.7 155.3 L1527.3 157.6 L1523.6 159.9 L1519.8 162.1 L1515.7 164.3 L1511.5 166.5 L1507.0 168.5 L1502.4 170.5 L1497.6 172.5 L1492.6 174.4 L1487.4 176.2 L1482.1 178.0 L1476.6 179.7 L1471.0 181.3 L1465.2 182.8 L1459.3 184.3 L1453.2 185.7 L1447.0 187.0 L1440.8 188.2 L1434.4 189.4 L1427.9 190.4 L1421.3 191.4 L1414.7 192.3 L1407.9 193.1 L1401.2 193.8 L1394.3 194.4 L1387.4 194.9 L1380.5 195.3 L1373.6 195.7 L1366.6 195.9 L1359.6 196.0 L1352.6 196.1 L1345.6 196.0 L1338.7 195.9 L1331.7 195.6 L1324.8 195.3 L1318.0 194.8 L1311.1 194.3 L1304.4 193.6 L1297.7 192.9 L1291.0 192.1 L1284.5 191.2 L1278.0 190.2 L1271.7 189.1 L1265.4 187.9 L1259.2 186.6 L1253.2 185.3 L1247.3 183.8 L1241.5 182.3 L1235.9 180.7 L1230.4 179.0 L1225.0 177.3 L1219.8 175.5 L1214.8 173.6 L1209.9 171.6 L1205.2 169.6 L1200.7 167.5 L1196.4 165.3 L1192.3 163.1 L1188.3 160.8 L1184.6 158.5 L1181.0 156.1 L1177.7 153.7 L1174.6 151.3 L1171.7 148.8 L1169.0 146.2 L1166.5 143.7 L1164.2 141.1 L1162.2 138.4 L1160.4 135.8 L1158.9 133.1 L1157.5 130.4 L1156.4 127.7 L1155.6 125.0 L1155.0 122.3 L1154.6 119.6 Z" fill="none" stroke="#f22a0e" stroke-width="8.6" stroke-linejoin="round"/>
</svg>
</body></html>
